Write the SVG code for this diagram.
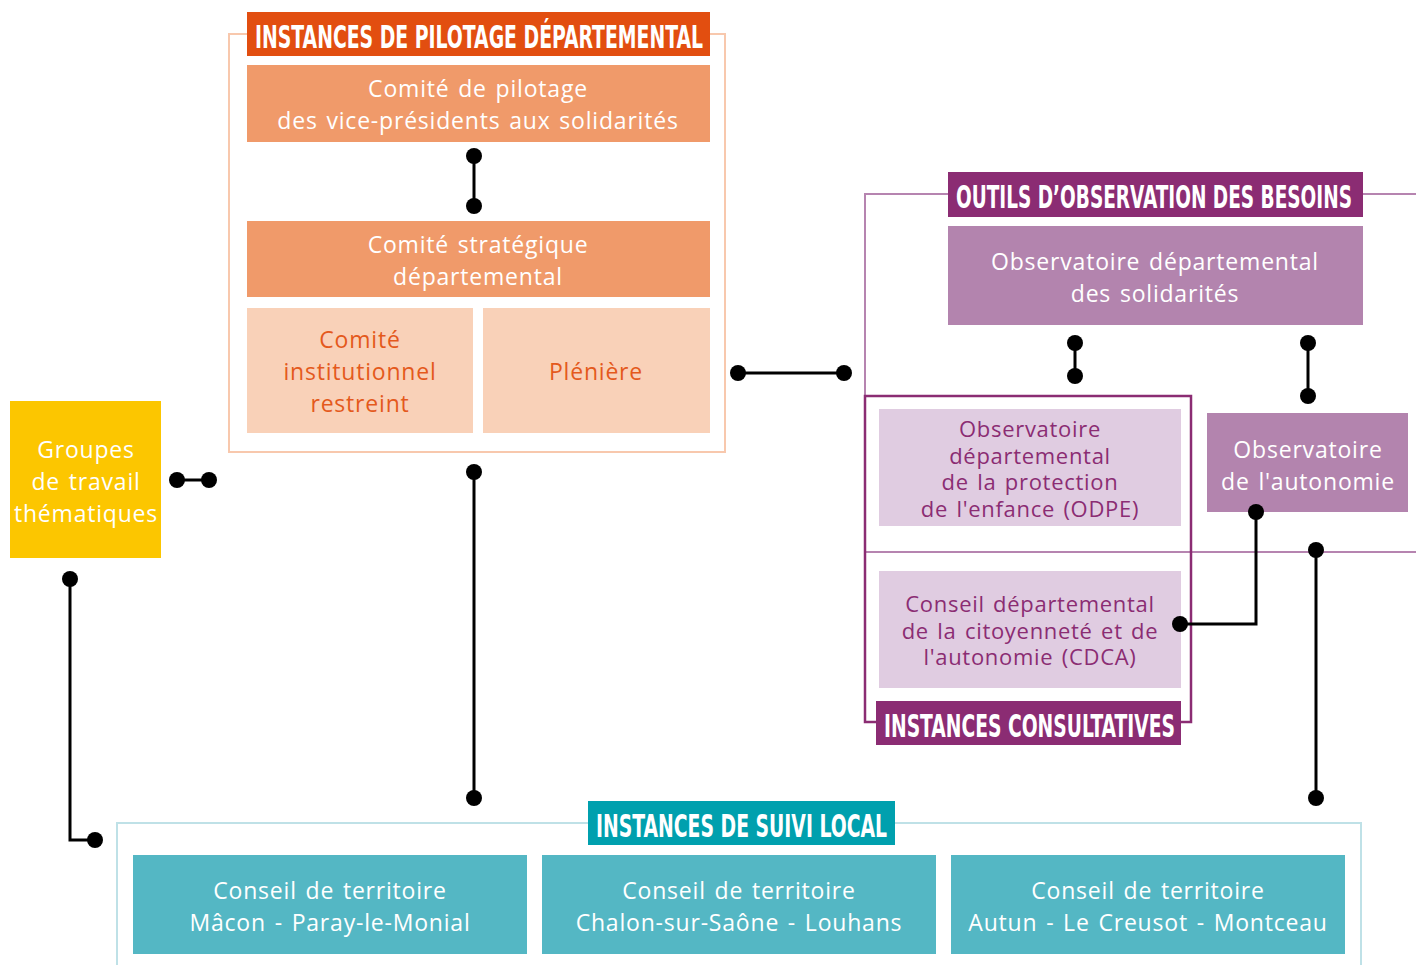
<svg xmlns="http://www.w3.org/2000/svg" width="1416" height="965" viewBox="0 0 1416 965">
<style>
.hd{font-family:"DejaVu Sans Condensed","DejaVu Sans",sans-serif;font-weight:bold;font-size:32px;fill:#fff}
.t{font-family:"Open Sans","Liberation Sans",sans-serif;font-size:23px;text-anchor:middle;letter-spacing:0.8px;word-spacing:2px}
.s{font-size:22px;letter-spacing:0.7px}
.w{fill:#fff}
.o{fill:#E4591C}
.p{fill:#8B2C73}
.ln{stroke:#000;stroke-width:3;fill:none}
.dot{fill:#000}
</style>
<rect width="1416" height="965" fill="#fff"/>
<!-- frames -->
<g id="frame-pilotage">
<rect x="229" y="34" width="496" height="418" fill="none" stroke="#F8C8AD" stroke-width="2"/>
<rect x="247" y="12" width="463" height="44" fill="#E24E10"/>
<text class="hd" x="255" y="48" textLength="448" lengthAdjust="spacingAndGlyphs">INSTANCES DE PILOTAGE DÉPARTEMENTAL</text>
</g>
<g id="frame-outils">
<path d="M948 194H865V552H1416M1363 194H1416" fill="none" stroke="#B684B0" stroke-width="2"/>
<rect x="948" y="172" width="415" height="45" fill="#8B2C73"/>
<text class="hd" x="956" y="208" textLength="396" lengthAdjust="spacingAndGlyphs">OUTILS D’OBSERVATION DES BESOINS</text>
</g>
<g id="frame-consultatives">
<rect x="865" y="396" width="326" height="326" fill="none" stroke="#8B2C73" stroke-width="2.5"/>
<rect x="876" y="701" width="305" height="44" fill="#8B2C73"/>
<text class="hd" x="884" y="737" textLength="291" lengthAdjust="spacingAndGlyphs">INSTANCES CONSULTATIVES</text>
</g>
<g id="frame-suivi">
<path d="M117 970V823H1361V970" fill="none" stroke="#BFE1E7" stroke-width="2"/>
<rect x="588" y="801" width="307" height="44" fill="#00A0AE"/>
<text class="hd" x="596" y="837" textLength="291" lengthAdjust="spacingAndGlyphs">INSTANCES DE SUIVI LOCAL</text>
</g>
<!-- nodes -->
<g id="comite-pilotage">
<rect x="247" y="65" width="463" height="77" fill="#F09A6A"/>
<text class="t w" x="478" y="97">Comité de pilotage</text>
<text class="t w" x="478" y="129">des vice-présidents aux solidarités</text>
</g>
<g id="comite-strategique">
<rect x="247" y="221" width="463" height="76" fill="#F09A6A"/>
<text class="t w" x="478" y="253">Comité stratégique</text>
<text class="t w" x="478" y="285">départemental</text>
</g>
<g id="comite-institutionnel">
<rect x="247" y="308" width="226" height="125" fill="#F9D1B8"/>
<text class="t o" x="360" y="348">Comité</text>
<text class="t o" x="360" y="380">institutionnel</text>
<text class="t o" x="360" y="412">restreint</text>
</g>
<g id="pleniere">
<rect x="483" y="308" width="227" height="125" fill="#F9D1B8"/>
<text class="t o" x="596" y="380">Plénière</text>
</g>
<g id="groupes">
<rect x="10" y="401" width="151" height="157" fill="#FCC600"/>
<text class="t w" x="86" y="458">Groupes</text>
<text class="t w" x="86" y="490">de travail</text>
<text class="t w" x="86" y="522">thématiques</text>
</g>
<g id="obs-solidarites">
<rect x="948" y="226" width="415" height="99" fill="#B384AE"/>
<text class="t w" x="1155" y="270">Observatoire départemental</text>
<text class="t w" x="1155" y="302">des solidarités</text>
</g>
<g id="odpe">
<rect x="879" y="409" width="302" height="117" fill="#E0CCE1"/>
<text class="t s p" x="1030" y="437">Observatoire</text>
<text class="t s p" x="1030" y="464">départemental</text>
<text class="t s p" x="1030" y="490">de la protection</text>
<text class="t s p" x="1030" y="517">de l'enfance (ODPE)</text>
</g>
<g id="obs-autonomie">
<rect x="1207" y="413" width="201" height="99" fill="#B384AE"/>
<text class="t w" x="1308" y="458">Observatoire</text>
<text class="t w" x="1308" y="490">de l'autonomie</text>
</g>
<g id="cdca">
<rect x="879" y="571" width="302" height="117" fill="#E0CCE1"/>
<text class="t s p" x="1030" y="612">Conseil départemental</text>
<text class="t s p" x="1030" y="639">de la citoyenneté et de</text>
<text class="t s p" x="1030" y="665">l'autonomie (CDCA)</text>
</g>
<g id="ct-macon">
<rect x="133" y="855" width="394" height="99" fill="#54B7C4"/>
<text class="t w" x="330" y="899">Conseil de territoire</text>
<text class="t w" x="330" y="931">Mâcon - Paray-le-Monial</text>
</g>
<g id="ct-chalon">
<rect x="542" y="855" width="394" height="99" fill="#54B7C4"/>
<text class="t w" x="739" y="899">Conseil de territoire</text>
<text class="t w" x="739" y="931">Chalon-sur-Saône - Louhans</text>
</g>
<g id="ct-autun">
<rect x="951" y="855" width="394" height="99" fill="#54B7C4"/>
<text class="t w" x="1148" y="899">Conseil de territoire</text>
<text class="t w" x="1148" y="931">Autun - Le Creusot - Montceau</text>
</g>
<!-- connectors -->
<g id="connectors">
<path class="ln" d="M474 156V206"/>
<circle class="dot" cx="474" cy="156" r="8"/><circle class="dot" cx="474" cy="206" r="8"/>
<path class="ln" d="M738 373H844"/>
<circle class="dot" cx="738" cy="373" r="8"/><circle class="dot" cx="844" cy="373" r="8"/>
<path class="ln" d="M474 472V798"/>
<circle class="dot" cx="474" cy="472" r="8"/><circle class="dot" cx="474" cy="798" r="8"/>
<path class="ln" d="M177 480H209"/>
<circle class="dot" cx="177" cy="480" r="8"/><circle class="dot" cx="209" cy="480" r="8"/>
<path class="ln" d="M70 579V840H95"/>
<circle class="dot" cx="70" cy="579" r="8"/><circle class="dot" cx="95" cy="840" r="8"/>
<path class="ln" d="M1075 343V376"/>
<circle class="dot" cx="1075" cy="343" r="8"/><circle class="dot" cx="1075" cy="376" r="8"/>
<path class="ln" d="M1308 343V396"/>
<circle class="dot" cx="1308" cy="343" r="8"/><circle class="dot" cx="1308" cy="396" r="8"/>
<path class="ln" d="M1256 512V624H1180"/>
<circle class="dot" cx="1256" cy="512" r="8"/><circle class="dot" cx="1180" cy="624" r="8"/>
<path class="ln" d="M1316 550V798"/>
<circle class="dot" cx="1316" cy="550" r="8"/><circle class="dot" cx="1316" cy="798" r="8"/>
</g>
</svg>
